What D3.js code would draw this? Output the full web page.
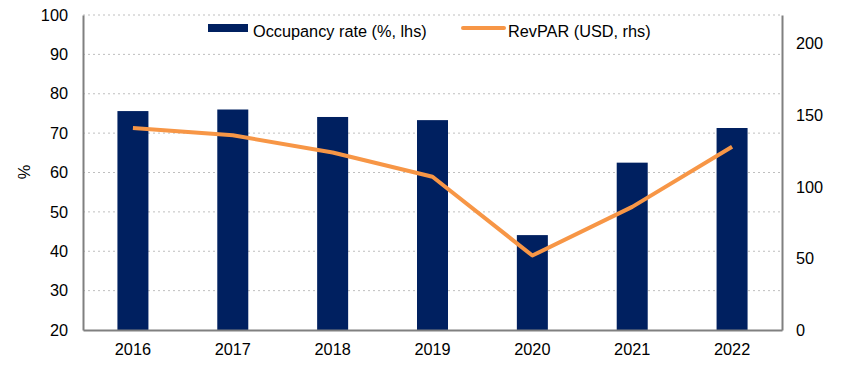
<!DOCTYPE html>
<html>
<head>
<meta charset="utf-8">
<script src="https://cdn.jsdelivr.net/npm/d3@7"></script>
<style>
  body { margin: 0; background: #fff; }
  svg text { font-family: "Liberation Sans", Arial, sans-serif; fill: #000; }
</style>
</head>
<body>
<svg id="chart"></svg>
<script>
// Data
const years = ["2016", "2017", "2018", "2019", "2020", "2021", "2022"];
const occupancy = [75.6, 76.0, 74.1, 73.3, 44.1, 62.5, 71.3];
const revpar = [141, 136, 124, 107, 52, 86, 128];
const leftTicks = [20, 30, 40, 50, 60, 70, 80, 90, 100];
const rightTicks = [0, 50, 100, 150, 200];

const width = 855, height = 375;
const margin = { top: 15, right: 73, bottom: 45, left: 83 };
const innerW = width - margin.left - margin.right;
const innerH = height - margin.top - margin.bottom;
const fs = 16.3;

const svg = d3.select("#chart").attr("width", width).attr("height", height);
const g = svg.append("g").attr("transform", `translate(${margin.left},${margin.top})`);

const x = d3.scaleBand().domain(years).range([0, innerW]);
const yL = d3.scaleLinear().domain([20, 100]).range([innerH, 0]);
const yR = d3.scaleLinear().domain([0, 220]).range([innerH, 0]);

// Gridlines
g.selectAll("line.grid")
    .data(leftTicks.slice(1))
    .join("line")
    .attr("class", "grid")
    .attr("x1", 0).attr("x2", innerW)
    .attr("y1", d => yL(d)).attr("y2", d => yL(d))
    .attr("stroke", "#bfbfbf")
    .attr("stroke-dasharray", "2,3");

// Bars
const barW = 31;
g.selectAll("rect.bar")
    .data(years)
    .join("rect")
    .attr("class", "bar")
    .attr("x", (d) => x(d) + x.bandwidth() / 2 - barW / 2)
    .attr("width", barW)
    .attr("y", (d, i) => yL(occupancy[i]))
    .attr("height", (d, i) => innerH - yL(occupancy[i]))
    .attr("fill", "#002060");

// Line
const line = d3.line()
    .x((d, i) => x(years[i]) + x.bandwidth() / 2)
    .y(d => yR(d));
g.append("path")
    .datum(revpar)
    .attr("d", line)
    .attr("fill", "none")
    .attr("stroke", "#f79646")
    .attr("stroke-width", 4)
    .attr("stroke-linejoin", "round");

// Axes
const axisColor = "#808080";
const left = g.append("g").call(d3.axisLeft(yL).tickValues(leftTicks).tickSize(0).tickPadding(15));
const right = g.append("g").attr("transform", `translate(${innerW},0)`)
    .call(d3.axisRight(yR).tickValues(rightTicks).tickSize(0).tickPadding(14));
const bottom = g.append("g").attr("transform", `translate(0,${innerH})`)
    .call(d3.axisBottom(x).tickSize(0).tickPadding(13.5));

[left, right, bottom].forEach(a => {
    a.select(".domain").attr("stroke", axisColor).attr("stroke-width", 2);
    a.selectAll("text").attr("font-size", fs).attr("font-family", "Liberation Sans, Arial, sans-serif");
});

// % label
svg.append("text")
    .attr("transform", "translate(30,172) rotate(-90)")
    .attr("text-anchor", "middle")
    .attr("font-size", fs)
    .text("%");

// Legend
const legend = svg.append("g");
legend.append("rect").attr("x", 208).attr("y", 24).attr("width", 40).attr("height", 8).attr("fill", "#002060");
legend.append("text").attr("x", 253).attr("y", 36.5).attr("font-size", fs).text("Occupancy rate (%, lhs)");
legend.append("line").attr("x1", 463).attr("x2", 504).attr("y1", 28).attr("y2", 28)
    .attr("stroke", "#f79646").attr("stroke-width", 4).attr("stroke-linecap", "round");
legend.append("text").attr("x", 508).attr("y", 36.5).attr("font-size", fs).text("RevPAR (USD, rhs)");
</script>
</body>
</html>
